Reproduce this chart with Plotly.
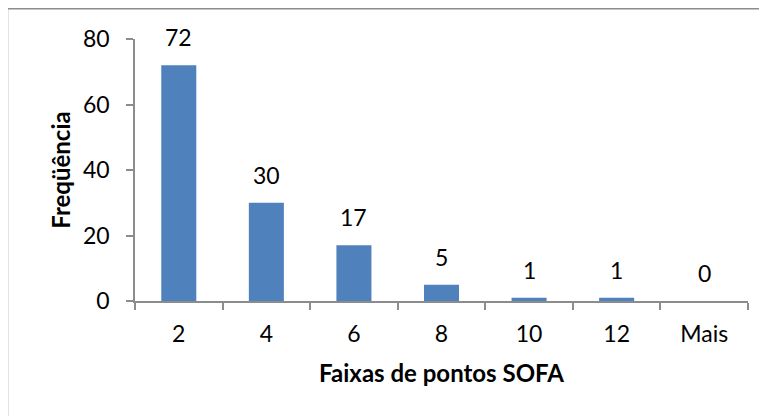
import plotly.graph_objects as go

# Histogram of SOFA scores
faixas = ["2", "4", "6", "8", "10", "12", "Mais"]
frequencia = [72, 30, 17, 5, 1, 1, 0]
y_ticks = [0, 20, 40, 60, 80]

font_family = "Lato, 'Open Sans', sans-serif"
axis_grey = "#8c8c8c"

fig = go.Figure()
fig.add_trace(go.Bar(
    x=faixas, y=frequencia,
    marker=dict(color="#4F81BD", line=dict(width=0)),
))

# value labels sit well above the bars, as in Excel
# (category axis: annotations placed by category index)
for i, val in enumerate(frequencia):
    fig.add_annotation(x=i, y=val, text=str(val), showarrow=False,
                       yanchor="bottom", yshift=12,
                       font=dict(size=23, color="black", family=font_family))

# page body adds an 8px offset, so margins are shifted by that
fig.update_layout(
    width=767, height=416,
    margin=dict(l=127, r=27, t=31, b=123),
    paper_bgcolor="white", plot_bgcolor="white",
    bargap=0.6,
    showlegend=False,
    font=dict(family=font_family, size=23, color="black"),
)
fig.update_xaxes(
    type="category", showgrid=False, range=[-0.5, len(faixas) - 0.5],
    showline=True, linecolor=axis_grey, linewidth=1.5,
    ticks="outside", tickson="boundaries", ticklen=7, tickcolor=axis_grey, tickwidth=1.5,
    ticklabelstandoff=12, tickangle=0,
    title=dict(text="<b>Faixas de pontos SOFA</b>", font=dict(size=24), standoff=19),
)
fig.update_yaxes(
    range=[0, 80], tickvals=y_ticks, showgrid=False, zeroline=False,
    showline=True, linecolor=axis_grey, linewidth=1.5,
    ticks="outside", ticklen=7, tickcolor=axis_grey, tickwidth=1.5,
    ticklabelstandoff=12,
    title=dict(text="<b>Freqüência</b>", font=dict(size=24), standoff=6),
)

# chart-area border (right/bottom edges fall outside the picture)
fig.add_shape(type="rect", xref="paper", yref="paper",
              x0=-0.208, x1=1.1, y0=-0.6, y1=1.115,
              line=dict(color="#8c8c8c", width=1.5), layer="below")

fig.write_html("out.html")
